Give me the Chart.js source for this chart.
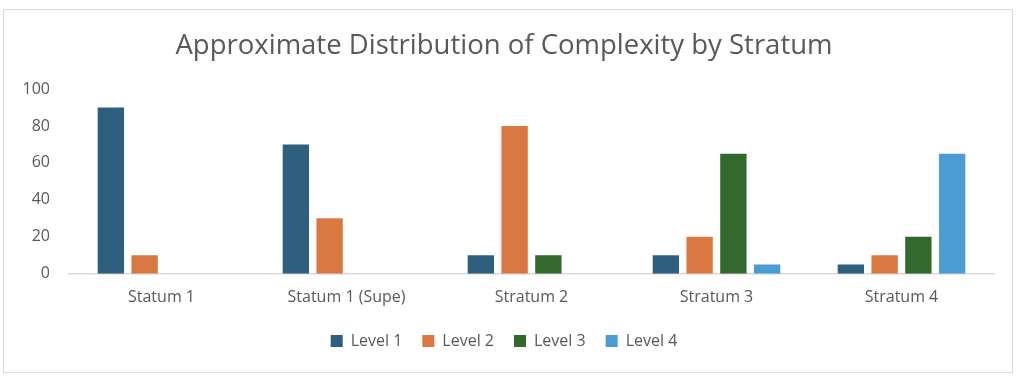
<!DOCTYPE html>
<html>
<head>
<meta charset="utf-8">
<script src="https://cdn.jsdelivr.net/npm/chart.js@4.4.1/dist/chart.umd.min.js"></script>
<style>
  html, body { margin: 0; padding: 0; background: #ffffff; }
  #box { position: absolute; left: 3px; top: 9px; width: 1008px; height: 362px; border: 1px solid #D9D9D9; box-sizing: content-box; }
  #c { display: block; }
</style>
</head>
<body>
<div id="box"><canvas id="c" width="1008" height="362"></canvas></div>
<script>
const categories = ["Statum 1", "Statum 1 (Supe)", "Stratum 2", "Stratum 3", "Stratum 4"];
const seriesNames = ["Level 1", "Level 2", "Level 3", "Level 4"];
const level1 = [90, 70, 10, 10, 5];
const level2 = [10, 30, 80, 20, 10];
const level3 = [0, 0, 10, 65, 20];
const level4 = [0, 0, 0, 5, 65];
const yTicks = [0, 20, 40, 60, 80, 100];
const colors = ["#2E5F7F", "#DA7842", "#33692C", "#4A9CD3"];

const FONT = "'Open Sans', 'Liberation Sans', sans-serif";
const values = [level1, level2, level3, level4];

new Chart(document.getElementById('c'), {
  type: 'bar',
  data: {
    labels: categories,
    datasets: seriesNames.map((n, i) => ({
      label: n,
      data: values[i],
      backgroundColor: colors[i],
      borderColor: '#ffffff',
      borderWidth: 0,
      categoryPercentage: 0.73,
      barPercentage: 0.78
    }))
  },
  options: {
    responsive: false,
    animation: false,
    layout: { padding: { left: 10, right: 18, top: 12, bottom: 13 } },
    plugins: {
      title: {
        display: true,
        text: 'Approximate Distribution of Complexity by Stratum',
        color: '#595959',
        font: { family: FONT, size: 27.5, weight: 'normal' },
        padding: { top: 8, bottom: 26 }
      },
      legend: {
        position: 'bottom',
        labels: {
          color: '#595959',
          font: { family: FONT, size: 16 },
          boxWidth: 12,
          boxHeight: 12,
          padding: 20
        }
      },
      tooltip: { enabled: false }
    },
    scales: {
      x: {
        afterFit: (s) => { s.height -= 8; },
        grid: { display: false, drawTicks: false },
        border: { display: true, color: '#D9D9D9', width: 1.5 },
        ticks: { color: '#595959', font: { family: FONT, size: 16 }, padding: 14 }
      },
      y: {
        min: 0,
        max: 100,
        afterBuildTicks: (s) => { s.ticks = yTicks.map(v => ({ value: v })); },
        afterFit: (s) => { s.width = 55; },
        grid: { display: false, drawTicks: false },
        border: { display: false },
        ticks: { color: '#595959', font: { family: FONT, size: 16 }, padding: 19 }
      }
    }
  }
});
</script>
</body>
</html>
